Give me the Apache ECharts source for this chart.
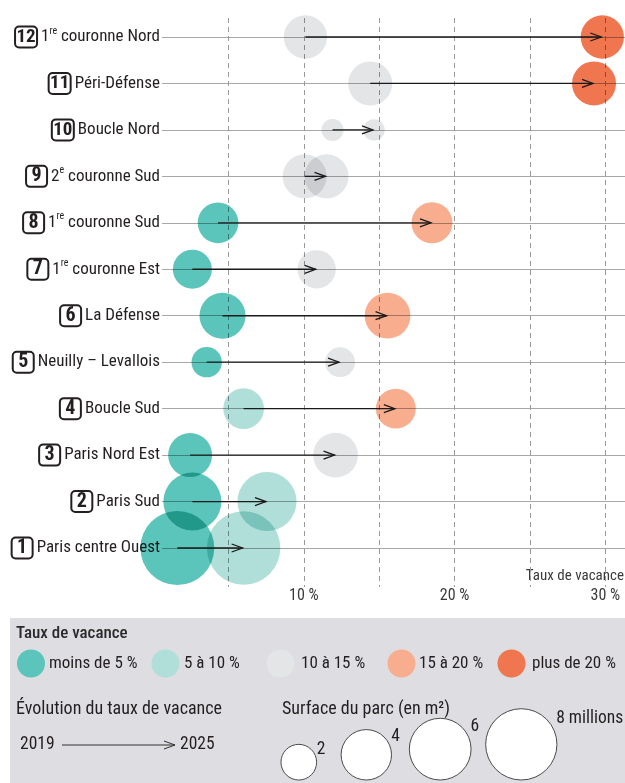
<!DOCTYPE html>
<html><head><meta charset="utf-8">
<script src="https://cdn.jsdelivr.net/npm/echarts@6/dist/echarts.min.js"></script>
<style>html,body{margin:0;padding:0;background:#fff}#c{width:625px;height:783px}</style>
</head><body><div id="c"></div>
<script>
// ---------- DATA ----------
const regions = ['Paris centre Ouest', 'Paris Sud', 'Paris Nord Est', 'Boucle Sud', 'Neuilly – Levallois', 'La Défense',
  '1re couronne Est', '1re couronne Sud', '2e couronne Sud', 'Boucle Nord', 'Péri-Défense', '1re couronne Nord'];
const rate2019 = [1.6, 2.6, 2.45, 6.0, 3.55, 4.6, 2.6, 4.3, 10.05, 11.9, 14.4, 10.1];
const rate2025 = [6.0, 7.55, 12.1, 16.1, 12.4, 15.55, 10.85, 18.5, 11.5, 14.65, 29.25, 29.8];
const surface2019 = [8.6, 5.3, 3.05, 2.6, 1.45, 3.35, 2.4, 2.6, 3.05, 0.76, 3.05, 2.95]; // millions m²
const surface2025 = [8.5, 5.5, 3.15, 2.5, 1.4, 3.3, 2.3, 2.65, 3.05, 0.72, 3.05, 2.95];
const classBounds = [5, 10, 15, 20];
const classLabels = ['moins de 5 %', '5 à 10 %', '10 à 15 %', '15 à 20 %', 'plus de 20 %'];
const classColors = ['#5BC5BB', '#B0DFDA', '#E4E5E7', '#F8AE8E', '#F07650'];
const legendSurfaces = [2, 4, 6, 8];
const legendSurfaceLabels = ['2', '4', '6', '8 millions'];
const yearFrom = '2019', yearTo = '2025';

// ---------- LAYOUT ----------
const FONT = "'Roboto Condensed','Liberation Sans',sans-serif";
const BADGE_FONT = "'Roboto Condensed','DejaVu Sans Condensed',sans-serif";
const TXT = '#231F20';
const W = 625, X0 = 153.2, PX_PER_PCT = 15.07;
const xMax = (W - X0) / PX_PER_PCT;
const mainLeft = 162;
const xMinMain = (mainLeft - X0) / PX_PER_PCT;
const R_K = 12.6;
const rOf = s => R_K * Math.sqrt(s);
function classOf(v) { let i = 0; while (i < classBounds.length && v >= classBounds[i]) i++; return i; }

const chart = echarts.init(document.getElementById('c'), null, { renderer: 'canvas' });

function labelFmt(name, idx) {
  const m = name.match(/^(\d)(re|e) (.*)$/);
  const txt = m ? `{t|${m[1]}}{s|${m[2]}}{t| ${m[3]}}` : `{t|${name}}`;
  const n = idx + 1;
  return `{${n > 9 ? 'b2' : 'b1'}|${n}}{g| }${txt}`;
}
const badgeBase = { fontFamily: BADGE_FONT, fontWeight: 'bold', fontSize: 20, color: TXT, borderColor: TXT,
  borderWidth: 2, borderRadius: 4, height: 19, lineHeight: 19, padding: [1, 3, 1, 3], align: 'center' };

function arrowShapes(x1, y1, x2, y2, color, lw) {
  const dir = Math.sign(x2 - x1) || 1;
  const tx = x2 - dir * 1;
  return [
    { type: 'line', shape: { x1: x1, y1: y1, x2: tx, y2: y2 }, style: { stroke: color, lineWidth: lw } },
    { type: 'polyline', shape: { points: [[tx - dir * 11, y2 - 4], [tx, y2], [tx - dir * 11, y2 + 4]] },
      style: { stroke: color, lineWidth: lw, fill: null } }
  ];
}

const scatterBase = {
  type: 'scatter', xAxisIndex: 0, yAxisIndex: 0, blendMode: 'multiply', clip: false, silent: true,
  symbolSize: v => 2 * rOf(v[2]),
  itemStyle: { color: p => classColors[classOf(p.value[0])], opacity: 1 },
  emphasis: { disabled: true }, z: 3
};

// legend graphics
const g = [];
g.push({ type: 'rect', shape: { x: 10, y: 618, width: 615, height: 165 }, style: { fill: '#DEDDE2' }, z: -10 });
g.push({ type: 'text', x: 16, y: 634, style: { text: 'Taux de vacance', font: `500 17px ${FONT}`, fill: '#2a2a2a', verticalAlign: 'middle' } });
const clsCx = [31, 165.5, 280.5, 401.5, 511.5];
const clsTx = [49, 184, 301, 419, 532];
classLabels.forEach((l, i) => {
  g.push({ type: 'circle', shape: { cx: clsCx[i], cy: 663.5, r: 14 }, style: { fill: classColors[i] } });
  g.push({ type: 'text', x: clsTx[i], y: 664, style: { text: l, font: `17px ${FONT}`, fill: TXT, verticalAlign: 'middle' } });
});
g.push({ type: 'text', x: 16, y: 709, style: { text: 'Évolution du taux de vacance', font: `18px ${FONT}`, fill: TXT, verticalAlign: 'middle' } });
g.push({ type: 'text', x: 20, y: 745, style: { text: yearFrom, font: `17.5px ${FONT}`, fill: TXT, verticalAlign: 'middle' } });
g.push({ type: 'group', children: arrowShapes(62, 745, 176, 745, '#333', 1) });
g.push({ type: 'text', x: 180, y: 745, style: { text: yearTo, font: `17.5px ${FONT}`, fill: TXT, verticalAlign: 'middle' } });
g.push({ type: 'text', x: 282, y: 709, style: { text: 'Surface du parc (en m²)', font: `18px ${FONT}`, fill: TXT, verticalAlign: 'middle' } });
const surfCx = [298.8, 366.3, 440.2, 521.3];
legendSurfaces.forEach((s, i) => {
  const r = rOf(s), cy = 780 - r;
  g.push({ type: 'circle', shape: { cx: surfCx[i], cy: cy, r: r }, style: { fill: '#fff', stroke: '#4a4a4a', lineWidth: 1 } });
  g.push({ type: 'text', x: surfCx[i] + r * 0.95 + 1, y: cy - r * 0.72,
    style: { text: legendSurfaceLabels[i], font: `17.5px ${FONT}`, fill: TXT, verticalAlign: 'middle' } });
});
g.push({ type: 'text', x: 624, y: 576, style: { text: 'Taux de vacance', font: `15px ${FONT}`, fill: '#3a3a3a', align: 'right', verticalAlign: 'middle' } });

const option = {
  backgroundColor: '#fff',
  animation: false,
  grid: [
    { left: mainLeft, right: 0, top: 37, bottom: 783 - 548, outerBoundsMode: 'none', containLabel: false },
    { left: X0, right: 0, top: 18, bottom: 783 - 587, outerBoundsMode: 'none', containLabel: false }
  ],
  xAxis: [
    { type: 'value', gridIndex: 0, min: xMinMain, max: xMax, show: false },
    { type: 'value', gridIndex: 1, min: 0, max: xMax, interval: 5,
      axisLine: { show: false }, axisTick: { show: false },
      splitLine: { show: true, showMinLine: false, showMaxLine: false, lineStyle: { color: '#9a9a9a', type: [5, 4], width: 1 } },
      axisLabel: { margin: 1, fontFamily: FONT, fontSize: 16, color: '#3a3a3a',
        formatter: v => (v > 0 && Math.abs(v % 10) < 1e-6) ? v + ' %' : '' } }
  ],
  yAxis: [
    { type: 'category', gridIndex: 0, data: regions, boundaryGap: false,
      axisLine: { show: false }, axisTick: { show: false },
      splitLine: { show: true, lineStyle: { color: '#a8a8a8', width: 1 } },
      axisLabel: { margin: 2, formatter: labelFmt,
        rich: {
          b1: Object.assign({}, badgeBase, { width: 15 }),
          b2: Object.assign({}, badgeBase, { width: 16, fontSize: 19 }),
          g: { fontSize: 5, width: 4 },
          t: { fontFamily: FONT, fontSize: 17, color: TXT, lineHeight: 22 },
          s: { fontFamily: FONT, fontSize: 10, color: TXT, lineHeight: 13, verticalAlign: 'top' }
        } } },
    { type: 'value', gridIndex: 1, show: false, min: 0, max: 1 }
  ],
  series: [
    Object.assign({}, scatterBase, { name: yearFrom, data: regions.map((r, i) => [rate2019[i], i, surface2019[i]]) }),
    Object.assign({}, scatterBase, { name: yearTo, data: regions.map((r, i) => [rate2025[i], i, surface2025[i]]) }),
    { type: 'custom', xAxisIndex: 0, yAxisIndex: 0, silent: true, z: 5, clip: false,
      encode: { x: [0, 2], y: 1 },
      data: regions.map((r, i) => [rate2019[i], i, rate2025[i]]),
      renderItem: (params, api) => {
        const a = api.coord([api.value(0), api.value(1)]);
        const b = api.coord([api.value(2), api.value(1)]);
        return { type: 'group', children: arrowShapes(a[0], a[1], b[0], b[1], '#1a1a1a', 1.3) };
      } }
  ],
  graphic: g
};
chart.setOption(option);
</script></body></html>
